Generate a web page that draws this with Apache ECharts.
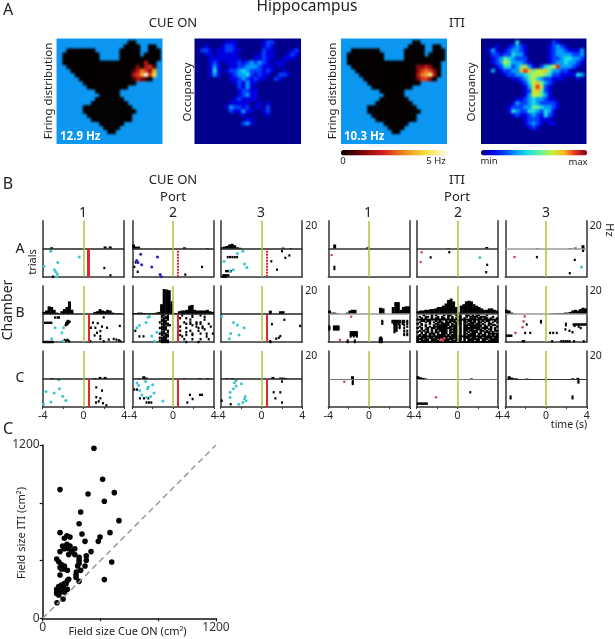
<!DOCTYPE html>
<html>
<head>
<meta charset="utf-8">
<style>
html,body{margin:0;padding:0;background:#fff}
#maps,#main{position:absolute;left:0;top:0;width:615px;height:639px}
#maps{filter:blur(1px);clip-path:path('M56.5 38.5h106v105.5h-106zM194.5 38.5h106.5v105.5h-106.5zM341 38.5h106v105.5h-106zM481 38.5h105.5v105.5h-105.5z')}
</style>
<script src="https://cdn.jsdelivr.net/npm/echarts@6/dist/echarts.min.js"></script>
</head>
<body>
<div id="maps"></div>
<div id="main"></div>
<script>
// =============== A: maps, one char per cell, '.' = outside the arena =================
var firingCueRows = [
  '...........................',
  '..................00.......',
  '.................0000..00..',
  '...0000000......00000..000.',
  '..000000000.....00000.0000.',
  '..000000000.....0000000000.',
  '..00000000000000000000300..',
  '...0000000000000000020341..',
  '....000000000000000135426..',
  '.....00000000000000346947..',
  '......000000000000013210...',
  '.......0000000000000.......',
  '........0000000000.........',
  '..........000000...........',
  '...........00000...........',
  '..........0000000..........',
  '.........000000000.........',
  '.......000000000000........',
  '.......0000000000000.......',
  '........00000000000........',
  '.........0000000000........',
  '...........000000..........',
  '............0000...........',
  '.............00............'
];
var firingItiRows = [
  '...........................',
  '..................00.......',
  '.................0000..00..',
  '...0000000......00000..000.',
  '..000000000.....00000.0000.',
  '..000000000.....0000000000.',
  '..00000000000000000000000..',
  '...0000000000000000223200..',
  '....000000000000000245420..',
  '.....00000000000000356830..',
  '......000000000000024420...',
  '.......0000000000000.......',
  '........0000000000.........',
  '..........000000...........',
  '...........00000...........',
  '..........0000000..........',
  '.........000000000.........',
  '.......000000000000........',
  '.......0000000000000.......',
  '........00000000000........',
  '.........0000000000........',
  '...........000000..........',
  '............0000...........',
  '.............00............'
];
var occupancyCueRows = [
  '000000000000000000000000000',
  '000000001110000001220000000',
  '000100012210000001210000000',
  '002210112211000002110000120',
  '000110111110000012110001210',
  '000011111111000112110011100',
  '000012101112123232101110000',
  '000013100112233321110100000',
  '000014101223432221210010000',
  '000013100123342121100221000',
  '000000000112321211002100000',
  '000000000012131100000000000',
  '000000000002131000000000000',
  '000000000001221100000000000',
  '000000000001231100000000000',
  '000000000012111100000000000',
  '000000000111110010100000000',
  '000000001322120110200000000',
  '000000000211311001200000000',
  '000000000000100000100000000',
  '000000000000011000000000000',
  '000000000000231000000000000',
  '000000000000000000000000000',
  '000000000000000000000000000',
  '000000000000000000000000000',
  '000000000000000000000000000',
  '000000000000000000000000000'
];
var occupancyItiRows = [
  '000000000000000000000000000',
  '000000000400000000210000000',
  '000010012321000001232100000',
  '001310123321000001233211130',
  '000221224331000001233332230',
  '000123543222000001223443320',
  '000123653332100001233433210',
  '000012442356310245683332100',
  '000301223378756675332210000',
  '000000122334566654221111430',
  '000000001123564322111000100',
  '000000000012467532100000000',
  '000000000001368621000000000',
  '000000000001267521000000000',
  '000000000001366531000000000',
  '000000000112343321100000000',
  '000000001322343222210000000',
  '000000012223355433210000000',
  '000000014322443243100000000',
  '000000001211232142100000000',
  '000000000001222111000000000',
  '000000000001232101100000000',
  '000000000000121000000000000',
  '000000000000000000000000000',
  '000000000000000000000000000',
  '000000000000000000000000000',
  '000000000000000000000000000'
];
var firingColors = ['#050000', '#7a0505', '#d81e1e', '#f08a1e', '#f8e040', '#fffce0'];
var occupancyColors = ['#00008c', '#0000e0', '#0040ff', '#00a0ff', '#20e0e0', '#60f0a0', '#c0f040', '#f8c020', '#e83020', '#800010'];

// =============== B: per panel firing rate [t, Hz] and spikes [t, trial] =================
var cueA1Hist = [[-3.125, 1], [2.125, 1.6], [2.625, 1.6]];
var cueA1Black = [[2.05, 13.8], [2.65, 19], [-3, 20]];
var cueA1Cyan = [[-3.21, 1.8], [-0.41, 6], [-2.52, 9.8], [-3.87, 12.5], [-2.85, 15], [-2.72, 16.5], [-2.55, 18], [-2.62, 20]];
var cueA2Hist = [[-3.875, 3], [-3.625, 1.5], [-3.375, 1.5], [1.125, 1], [3.375, 0.5]];
var cueA2Black = [[-3.8, 13], [-3.67, 9.8], [-3.47, 16.5], [2.84, 13], [1.2, 18.5]];
var cueA2Blue = [[-3.18, 4], [-1.53, 6], [-3.57, 8.5], [-3.44, 9.8], [-3.08, 11.5], [-2.09, 13], [-1.27, 18.5], [-1.14, 20]];
var cueA3Hist = [[-3.875, 1], [-3.625, 1.5], [-3.375, 2], [-3.125, 3], [-2.875, 3.5], [-2.625, 2.5], [-2.375, 1], [-2.125, 0.7], [2.125, 0.8], [2.875, 0.4]];
var cueA3Black = [[-3.31, 6], [-3.08, 6], [-2.85, 6], [-2.62, 6], [-2.39, 6], [-3.47, 16], [-3.31, 16], [-3.14, 16], [-2.98, 16], [-3.74, 19], [-3.57, 19], [-3.41, 19], [-3.24, 19], [-3.8, 20], [-3.64, 20], [-3.47, 20], [2.02, 1.8], [2.74, 4.8], [2.35, 6.5], [0.97, 9], [1.53, 15]];
var cueA3Cyan = [[-1.83, 1.8], [-3.67, 9], [-1.66, 11], [-1.43, 13.5], [-2.75, 15], [-3.08, 16], [-2.36, 3.5]];

var cueB1Hist = [[-3.875, 1.5], [-3.625, 2.5], [-3.375, 5.5], [-3.125, 5], [-2.875, 3], [-2.625, 1], [-2.375, 0.5], [-2.125, 2], [-1.875, 3.5], [-1.625, 5], [-1.375, 9], [-1.125, 3], [1.125, 1.5], [1.375, 2], [1.625, 3.5], [1.875, 2.5], [2.125, 2], [2.375, 3], [2.625, 2.5], [2.875, 1], [3.125, 0.5], [3.375, 0.5], [3.625, 0.5]];
var cueB1Black = [[-3.77, 6.3], [-3.6, 6.3], [-3.45, 6.3], [-3.3, 6.3], [-3.15, 6.3], [-2.8, 2.5], [-2.55, 2.5], [-2.4, 2.5], [-1.75, 8], [-1.65, 7.5], [-1.55, 7], [-1.45, 6], [-1.35, 5.5], [-1.7, 6.5], [-1.6, 5.5], [-1.5, 5], [-3.9, 20], [-3.75, 20], [-3.6, 20], [-3.45, 20], [-3.3, 20], [-3.15, 20], [-3, 20], [-2, 19.5], [-1.85, 18.5], [-1.7, 19], [-1.55, 18.5], [-1.4, 19.5], [0.93, 6.2], [1.4, 6.6], [1.99, 2.4], [0.74, 9.8], [1.17, 9.8], [1.66, 12.2], [1.33, 13.4], [1.82, 9], [2.32, 9.8], [3.57, 8.5], [1.66, 15.8], [1.1, 15.3], [0.67, 19.5], [1.99, 19.5], [2.48, 18.3], [2.97, 17.8], [3.24, 18.3], [3.47, 18.8], [1.66, 17.8], [3.63, 19.5]];
var cueB1Cyan = [[-2.78, 9.8], [-1.96, 9.8], [-3.11, 17.6], [-2.12, 13.4], [-1.96, 19.5]];
var cueB2Hist = [[-3.875, 0.7], [-3.625, 0.7], [-3.375, 1], [-3.125, 1], [-2.875, 0.7], [-2.625, 0.5], [-2.375, 0.5], [-2.125, 0.5], [-1.875, 0.7], [-1.625, 1], [-1.375, 1.5], [-1.125, 7], [-0.875, 17.8], [-0.625, 17.5], [-0.375, 17], [-0.125, 9], [0.125, 0.5], [0.375, 0.5], [0.625, 2], [0.875, 2.5], [1.125, 2.5], [1.375, 3], [1.625, 6], [1.875, 6.5], [2.125, 3], [2.375, 2.5], [2.625, 2.5], [2.875, 2.5], [3.125, 2.5], [3.375, 3], [3.625, 2], [3.875, 1.5]];
var cueB2Rows = [
  '..............##.#......#....#...#......',
  '..............#.##...........#.....#....',
  '...............###.....#..#.............',
  '..............##.#..........#......#....',
  '..............###.......................',
  '.............#.##........#..#..#.#......',
  '..............####........#.#..#.#...#..',
  '...............#.##..........#..........',
  '..............###......#.......#..#...#.',
  '.............####.........#.....#.#.....',
  '..............###..................#....',
  '.#.............#.#.....#....#...#.......',
  '..............##.#........#.............',
  '.............####............#...#..#..#',
  '..............#.##.....#..#..#..........',
  '...#.#.........###......#...........#...',
  '.............####.......................',
  '..............###.....#..#...#...#...#..',
  '.............#####......................',
  '..............####........#.....#.......'
];
var cueB2Cyan = [[-2.45, 2.4], [-2.3, 1.8], [-2.65, 6], [-3.3, 8], [-3.55, 9.8], [-1.8, 19.5], [-2.1, 15.8], [-1.6, 13]];
var cueB3Hist = [[0.875, 2.4], [1.875, 2], [2.125, 2]];
var cueB3Black = [[1.03, 7.3], [2.25, 4.1], [0.9, 20], [1.7, 17], [1.85, 15.8], [1.45, 17.6], [3.8, 8.5], [0.85, 19.5]];
var cueB3Cyan = [[-3.9, 1.7], [-2.75, 6.1], [-2.36, 7.8], [-1.7, 9.8], [-3.02, 13.9], [-2.2, 15], [-3.15, 17.6]];

var cueC1Hist = [[-3.125, 0.7], [1.125, 0.7], [1.625, 1.5], [2.125, 1.5]];
var cueC1Black = [[1.26, 6], [1.82, 8.3], [1.26, 13], [1.66, 13.8], [1.23, 16.8], [1.5, 16], [1.92, 17.3], [2.25, 18.8]];
var cueC1Cyan = [[-2.42, 0.5], [-2.88, 10], [-3.67, 9], [-2.35, 7], [-2.03, 12.3], [-1.73, 15.4], [-3.2, 16.5], [-3.93, 17.8]];
var cueC2Hist = [[-2.875, 2], [-2.625, 1], [-3.375, 0.5], [1.125, 0.4], [2.625, 0.7], [3.375, 0.7]];
var cueC2Black = [[-3.8, 7.5], [-3.54, 7.5], [-2.85, 13.8], [-3.25, 13.8], [-2.43, 13.8], [-2.6, 16.8], [-2.36, 16.8], [-2.13, 16.8], [1.66, 11.3], [2.64, 11.3], [2.84, 11.3], [1.92, 14.3], [1.4, 16.8]];
var cueC2Cyan = [[-3.54, 2.9], [-2.69, 1.7], [-3.38, 4.6], [-2.43, 5.8], [-2, 4.1], [-2.5, 7], [-3.28, 8.3], [-1.87, 10], [-3.05, 11.5], [-2.2, 12.5], [-2.59, 13.3], [-1, 15.8]];
var cueC3Hist = [[-3.375, 0.7], [-2.875, 0.7], [1.125, 1.5], [1.875, 1], [2.125, 1], [2.375, 0.7]];
var cueC3Black = [[2.02, 1.8], [1.2, 9.5], [1.85, 9.5], [1.37, 13.8], [2.02, 16.8], [-3.9, 15.5], [-3.02, 18]];
var cueC3Cyan = [[-2.49, 1], [-2.66, 2.7], [-1.96, 3.4], [-2.49, 5], [-2.75, 7], [-3.08, 9.5], [-1.6, 12.5], [-1.66, 14.3], [-1.5, 15.5], [-3.08, 13.3], [-1.83, 16.8], [-2.23, 18]];

var itiA1Hist = [[-3.375, 3], [-0.125, 1]];
var itiA1Black = [[-3.4, 13], [-3.4, 14.5]];
var itiA1Red = [[-3.67, 4.5]];
var itiA2Hist = [[-0.875, 0.5], [2.875, 1.2]];
var itiA2Black = [[-2.63, 6.2], [-0.8, 2.5], [2.92, 11.5], [2.82, 16.8]];
var itiA2Red = [[-3.51, 2.5], [-3.61, 9.5]];
var itiA2Cyan = [[2.2, 6.2]];
var itiA3Hist = [[-0.875, 0.5], [2.375, 0.5], [2.875, 0.8], [3.625, 2.5]];
var itiA3Black = [[-0.9, 6], [2.82, 8], [2.33, 17.5], [3.64, 0.5], [3.64, 1.5]];
var itiA3Red = [[-3.09, 6]];
var itiA3Cyan = [[3.48, 13]];

var itiB1Hist = [[-3.875, 2.5], [-3.625, 1], [-3.375, 1], [-3.125, 0.5], [-2.125, 1], [-1.875, 2.5], [-1.625, 3], [-1.375, 3], [1.125, 4.5], [1.375, 4], [2.375, 5], [2.625, 8.5], [2.875, 8.5], [3.125, 3], [3.375, 5], [3.625, 5.5], [3.875, 5.5]];
var itiB1Black = [[-3.9, 9], [-3.9, 10], [-3.9, 11], [-3.45, 9], [-3.3, 9], [-3.15, 9], [-3, 9], [-3.45, 10], [-3.3, 10], [-3.15, 10], [-3, 10], [-3.45, 11], [-3.3, 11], [-3.15, 11], [-3, 11],
  [-1.8, 13], [-1.65, 13], [-1.5, 13], [-1.35, 13], [-1.2, 13], [-1.8, 14], [-1.65, 14], [-1.5, 14], [-1.35, 14], [-1.2, 14], [-1.8, 15], [-1.65, 15], [-1.5, 15], [-1.35, 15], [-1.2, 15], [-1.8, 16], [-1.5, 16], [-1.2, 16], [-2.1, 19], [-2.1, 20], [-1.4, 19], [-1.4, 20],
  [1.3, 5], [1.3, 6], [1.3, 7], [1.1, 17], [1.2, 17], [1.05, 18], [1.25, 18], [1.05, 19], [1.25, 19], [1.05, 20], [1.25, 20],
  [2.3, 5], [2.45, 5], [2.6, 5], [2.75, 5], [2.9, 5], [3.05, 5], [3.3, 5], [3.45, 5], [3.75, 5], [2.3, 6], [2.45, 6], [2.6, 6], [2.75, 6], [2.9, 6], [3.05, 6], [3.3, 6], [3.45, 6], [3.75, 6], [2.45, 7], [2.6, 7], [2.9, 7], [3.3, 7], [3.75, 7],
  [2.5, 8], [2.7, 8], [3.0, 8], [3.45, 8], [3.75, 9], [2.5, 9], [2.7, 9], [3.0, 9], [2.5, 10], [2.7, 10], [3.0, 10], [3.45, 10], [2.5, 11], [2.7, 11], [2.5, 12], [2.7, 12], [3.45, 12], [3.75, 12], [2.5, 13], [3.45, 14], [3.75, 14], [3.45, 15], [3.75, 15]];
var itiB1Red = [[-1.75, 2], [-2.86, 18.5]];
var itiB2Hist = [[-3.875, 2], [-3.625, 2.5], [-3.375, 2.5], [-3.125, 3], [-2.875, 3], [-2.625, 3.5], [-2.375, 3.5], [-2.125, 4], [-1.875, 5], [-1.625, 5], [-1.375, 6], [-1.125, 7.5], [-0.875, 10], [-0.625, 11], [-0.375, 9], [-0.125, 5], [0.125, 1], [0.375, 6], [0.625, 7], [0.875, 9], [1.125, 9.5], [1.375, 9], [1.625, 7], [1.875, 6], [2.125, 5], [2.375, 4], [2.625, 3], [2.875, 3], [3.125, 4], [3.375, 4], [3.625, 3], [3.875, 2.5]];
var itiB2Rows = [
  '...#...#.#...#.##..#.#..##.#.##...#.....',
  '.#..##.#..#.#..#.#..##..#.####.###...#..',
  '..#.#..#.##.##.#.#.#.#.#..###.##.##.#..#',
  '########################################',
  '..##.##..#.#..#.###.##.#.##.#.#.#.##..#.',
  '.#..#.#.#.###.###.##.#.##.###.##.#.#.#.#',
  '#.#...#..##.####.#.###.#.###.##.#..##...',
  '..#.#...#.######.###.#.#########.#.#.##.',
  '.#..#.#.#######.####.#.##.######.##.#..#',
  '#.#..#.##.#######.##.#.########.###.#.#.',
  '..#.##.#.######.####.#.#####.###.#.##.#.',
  '.#.#.#.#.#.####.#.##.#.##.####.##.#.#.##',
  '#.#.##.#.##.###.####.#.#.#.###.#.###.#..',
  '..#.#.###.#.###.#.##.#.##.###.##.#.#####',
  '.#.##.#.#.####.#.###.#.#.####.#.##.#.#.#',
  '########################################',
  '#.###.##.####.#.####.#.###.##.##.####.##',
  '###.##.###.#######.###.#.######.###.####',
  '#.####.####.####.#####.#.###.##.##.#####',
  '########################################'
];
var itiB2Red = [[-1.6, 18], [-1.45, 19], [-1.3, 17.5]];
var itiB3Hist = [[-3.875, 3], [-3.625, 2.5], [-3.375, 1], [-3.125, 0.3], [0.625, 0.5], [0.875, 0.3], [1.125, 0.7], [1.375, 0.7], [1.625, 0.7], [1.875, 1], [2.125, 1], [2.375, 1.5], [2.625, 2.5], [2.875, 3], [3.125, 2.5], [3.375, 3.5], [3.625, 4.5], [3.875, 4]];
var itiB3Black = [[-0.5, 5], [-0.5, 6], [-1.9, 7.5], [1.95, 7], [1.95, 8], [2.7, 7.5], [2.85, 7.5], [3, 7.5], [3.15, 7.5], [3.3, 7.5], [3.45, 7.5], [3.6, 7.5], [3.75, 7.5], [3.9, 7.5], [2.3, 12], [1.9, 11], [2.6, 13], [2.8, 8.5], [3.2, 9], [3.4, 10], [-2.05, 13.5], [-1.55, 13.5], [0.4, 13.5], [0.7, 13.5], [1.05, 13.5], [-3.85, 15.5], [-3.7, 15.5], [-3.55, 15.5], [-3.4, 15.5], [-2.3, 19.5], [-2.15, 19.5], [0.6, 19.5], [1.5, 19.5], [1.7, 19.5], [1.9, 19.5], [2.1, 19.5], [2.3, 19.5], [2.75, 19.5], [3.7, 19.5]];
var itiB3Red = [[-2.1, 1.7], [-2.2, 5.3], [-2.3, 9.5], [-3, 13.5]];

var itiC1Hist = [[-1.625, 2]];
var itiC1Black = [[-1.6, 1.5], [-1.6, 2.5], [-1.6, 3.5]];
var itiC1Red = [[-2.43, 2]];
var itiC2Hist = [[-3.875, 2], [-3.625, 1.2], [-3.375, 0.8], [-3.125, 0.4], [1.375, 0.4]];
var itiC2Black = [[-3.9, 17.6], [-3.75, 17.6], [-3.6, 17.6], [-3.45, 17.6], [-3.3, 17.6], [-3.15, 17.6], [-3, 17.6], [1.26, 9.5]];
var itiC2Red = [[-2.1, 13]];
var itiC3Hist = [[-3.625, 2], [-3.375, 1], [-3.125, 0.5], [-2.875, 0.4], [-1.875, 0.3], [2.625, 0.5], [3.125, 0.8]];
var itiC3Black = [[3.18, 1.5], [3.18, 2.5], [-3.48, 12.5], [-3.48, 13.8], [2.6, 12.5], [2.6, 13.8]];

// =============== C: field size scatter =================
var fieldSizes = [
  [355, 1177], [415, 962], [120, 891], [496, 870], [314, 861], [427, 810], [263, 736], [528, 676], [252, 655], [120, 593],
  [466, 593], [272, 584], [168, 572], [189, 563], [150, 554], [397, 563], [385, 533], [293, 533], [138, 501], [168, 512],
  [189, 501], [150, 482], [180, 482], [222, 482], [120, 462], [201, 462], [180, 441], [335, 462], [222, 441], [302, 432],
  [252, 422], [97, 411], [252, 402], [302, 402], [111, 392], [129, 372], [252, 381], [478, 390], [150, 362], [120, 351],
  [293, 362], [242, 362], [150, 342], [129, 342], [263, 332], [171, 332], [233, 321], [231, 300], [120, 300], [231, 282],
  [180, 270], [427, 268], [171, 261], [252, 256], [150, 240], [129, 231], [162, 240], [111, 219], [141, 219], [97, 201],
  [120, 201], [150, 201], [171, 201], [97, 180], [120, 180], [150, 180], [97, 171], [111, 162], [141, 134], [99, 108]
];
var unityLine = [[0, 0], [1200, 1200]];
var fieldTicks = ['0', '1200'];

var cueMark = 0;
var portMark = 0.5;

function rowsToCells(rows) {
  var cells = [];
  rows.forEach(function (row, j) {
    for (var i = 0; i < row.length; i++) {
      if (row[i] !== '.') {
        cells.push([i, j, +row[i]]);
      }
    }
  });
  return cells;
}

function rowsToSpikes(rows) {
  var spikes = [];
  rows.forEach(function (row, j) {
    for (var i = 0; i < row.length; i++) {
      if (row[i] === '#') {
        spikes.push([-4 + (i + 0.5) * 0.2, j + 1]);
      }
    }
  });
  return spikes;
}

var mapCells = [];
for (var n = 0; n < 27; n++) {
  mapCells.push(n);
}

// heat maps live on their own softened layer
var mapGrids = [], mapX = [], mapY = [], mapSeries = [];
var maps = [
  {left: 56.5, width: 106, rows: firingCueRows, bg: '#0b97f2'},
  {left: 194.5, width: 106.5, rows: occupancyCueRows, bg: '#00008c'},
  {left: 341, width: 106, rows: firingItiRows, bg: '#0b97f2'},
  {left: 481, width: 105.5, rows: occupancyItiRows, bg: '#00008c'}
];
maps.forEach(function (m, k) {
  mapGrids.push({left: m.left - 2, top: 36.5, width: m.width + 4, height: 109.5, show: true, backgroundColor: m.bg, borderWidth: 0});
  mapX.push({type: 'category', gridIndex: k, data: mapCells, show: false});
  mapY.push({type: 'category', gridIndex: k, data: mapCells, inverse: true, show: false});
  mapSeries.push({type: 'heatmap', xAxisIndex: k, yAxisIndex: k, data: rowsToCells(m.rows), progressive: 0, silent: true});
});

var grids = [], xAxes = [], yAxes = [], series = [];

// raster panels
var colLeft = [42.7, 132.3, 220.7, 328.3, 416.7, 505.3];
var rowTop = [220.7, 286, 351];
var panels = [
  {c: 0, r: 0, hist: cueA1Hist, black: cueA1Black, cyan: cueA1Cyan, portWidth: 3},
  {c: 1, r: 0, hist: cueA2Hist, black: cueA2Black, blue: cueA2Blue, portWidth: 2, portDots: true},
  {c: 2, r: 0, hist: cueA3Hist, black: cueA3Black, cyan: cueA3Cyan, portWidth: 2, portDots: true},
  {c: 0, r: 1, hist: cueB1Hist, black: cueB1Black, cyan: cueB1Cyan, portWidth: 2},
  {c: 1, r: 1, hist: cueB2Hist, black: rowsToSpikes(cueB2Rows), cyan: cueB2Cyan, portWidth: 2},
  {c: 2, r: 1, hist: cueB3Hist, black: cueB3Black, cyan: cueB3Cyan, portWidth: 2},
  {c: 0, r: 2, hist: cueC1Hist, black: cueC1Black, cyan: cueC1Cyan, portWidth: 2},
  {c: 1, r: 2, hist: cueC2Hist, black: cueC2Black, cyan: cueC2Cyan, portWidth: 2},
  {c: 2, r: 2, hist: cueC3Hist, black: cueC3Black, cyan: cueC3Cyan, portWidth: 2},
  {c: 3, r: 0, hist: itiA1Hist, black: itiA1Black, red: itiA1Red, mid: '#333'},
  {c: 4, r: 0, hist: itiA2Hist, black: itiA2Black, red: itiA2Red, cyan: itiA2Cyan, mid: '#333'},
  {c: 5, r: 0, hist: itiA3Hist, black: itiA3Black, red: itiA3Red, cyan: itiA3Cyan, mid: '#999'},
  {c: 3, r: 1, hist: itiB1Hist, black: itiB1Black, red: itiB1Red, mid: '#999'},
  {c: 4, r: 1, hist: itiB2Hist, black: rowsToSpikes(itiB2Rows), red: itiB2Red, mid: '#555', dense: true},
  {c: 5, r: 1, hist: itiB3Hist, black: itiB3Black, red: itiB3Red, mid: '#999'},
  {c: 3, r: 2, hist: itiC1Hist, black: itiC1Black, red: itiC1Red, mid: '#777', thin: true},
  {c: 4, r: 2, hist: itiC2Hist, black: itiC2Black, red: itiC2Red, mid: '#777', thin: true},
  {c: 5, r: 2, hist: itiC3Hist, black: itiC3Black, mid: '#333', thin: true}
];

var axisColor = '#333';
panels.forEach(function (p) {
  var g = grids.length;
  var showHz = p.c === 2 || p.c === 5;
  grids.push({left: colLeft[p.c], top: rowTop[p.r], width: 81.5, height: 56});
  xAxes.push({
    type: 'value', gridIndex: g, min: -4, max: 4, interval: 2,
    axisLine: {show: true, onZero: false, lineStyle: {color: axisColor, width: 1.5}},
    axisTick: {show: p.r === 2, length: 2, lineStyle: {color: axisColor}},
    axisLabel: {
      show: p.r === 2, margin: 4, fontSize: 10.5, color: '#222', fontFamily: 'Noto Sans', showMinLabel: true, showMaxLabel: true,
      formatter: function (v) {
        return Math.abs(v) === 2 ? '' : String(v);
      }
    },
    splitLine: {show: false}
  });
  var leftIndex = yAxes.length;
  yAxes.push({
    type: 'value', gridIndex: g, position: 'left', min: -20, max: 20, interval: 20,
    axisLine: {show: true, onZero: false, lineStyle: {color: axisColor, width: 1.5}},
    axisTick: {show: false}, axisLabel: {show: false}, splitLine: {show: false}
  });
  yAxes.push({
    type: 'value', gridIndex: g, position: 'right', min: -20, max: 20, interval: 20,
    axisLine: {show: true, onZero: false, lineStyle: {color: axisColor, width: 1.5}},
    axisTick: {show: false},
    axisLabel: {
      show: showHz, margin: 3, fontSize: 10.5, color: '#222', fontFamily: 'Noto Sans', verticalAlign: 'top',
      formatter: function (v) {
        return v === 20 ? '20' : '';
      }
    },
    splitLine: {show: false}
  });

  var lines = [
    [{coord: [-4, 0], lineStyle: {color: p.mid || '#222', width: p.thin ? 1 : 1.5, type: 'solid'}}, {coord: [4, 0]}],
    [{coord: [cueMark, -20], lineStyle: {color: '#a4c739', width: 1.5, type: 'solid'}}, {coord: [cueMark, 20]}]
  ];
  if (p.portWidth) {
    lines.push([{coord: [portMark, -20], lineStyle: {color: '#e3262e', width: p.portWidth, type: p.portDots ? [2, 1] : 'solid'}}, {coord: [portMark, 0]}]);
  }
  series.push({
    type: 'bar', xAxisIndex: g, yAxisIndex: leftIndex, data: p.hist, barWidth: 3, silent: true,
    itemStyle: {color: '#000'},
    markLine: {silent: true, symbol: 'none', label: {show: false}, animation: false, z: 5, data: lines}
  });
  var dots = [
    {data: p.black, color: '#000', size: p.dense ? [2.5, 2] : [2, 2.4], symbol: 'rect'},
    {data: p.cyan, color: '#3cc6cf', size: 3, symbol: 'circle'},
    {data: p.blue, color: '#2424b8', size: 3, symbol: 'circle'},
    {data: p.red, color: '#e0455a', size: 2.6, symbol: 'circle'}
  ];
  dots.forEach(function (d) {
    if (!d.data) {
      return;
    }
    series.push({
      type: 'scatter', xAxisIndex: g, yAxisIndex: leftIndex, symbol: d.symbol, symbolSize: d.size, silent: true,
      itemStyle: {color: d.color, opacity: 1},
      data: d.data.map(function (s) {
        return [s[0], -s[1]];
      })
    });
  });
});

// scatter
var sg = grids.length;
grids.push({left: 42.7, top: 445, width: 173.3, height: 173.3});
function fieldAxis(index, pos) {
  return {
    type: 'value', gridIndex: index, position: pos, min: 0, max: 1200, interval: 400,
    axisLine: {show: true, onZero: false, lineStyle: {color: '#111', width: 1.5}},
    axisTick: {show: true, length: 3, lineStyle: {color: '#111', width: 1.2}},
    axisLabel: {
      margin: 3, fontSize: 12, color: '#333', fontFamily: 'Noto Sans', showMinLabel: true, showMaxLabel: true,
      formatter: function (v) {
        return fieldTicks.indexOf(String(v)) >= 0 ? String(v) : '';
      }
    },
    splitLine: {show: false}
  };
}
xAxes.push(fieldAxis(sg, 'bottom'));
yAxes.push(fieldAxis(sg, 'left'));
series.push({
  type: 'line', xAxisIndex: sg, yAxisIndex: yAxes.length - 1, data: unityLine, symbol: 'none', silent: true,
  lineStyle: {color: '#999', width: 1.5, type: [6, 4]}
});
series.push({
  type: 'scatter', xAxisIndex: sg, yAxisIndex: yAxes.length - 1, data: fieldSizes, symbol: 'circle', symbolSize: 5.6, silent: true,
  itemStyle: {color: '#050505', opacity: 1}
});

function label(x, y, text, size, extra) {
  extra = extra || {};
  return {
    type: 'text', x: x, y: y, rotation: extra.rotation || 0, silent: true, z: 20,
    style: {
      text: text, fill: extra.fill || '#222', textAlign: extra.align || 'center', textVerticalAlign: 'middle',
      font: (extra.bold ? 'bold ' : '') + size + 'px "Noto Sans"'
    }
  };
}
var ccw = Math.PI / 2;
var texts = [
  label(307, 7, 'Hippocampus', 15.5),
  label(8, 10, 'A', 16), label(8, 184, 'B', 16), label(8, 429, 'C', 16),
  label(173, 23, 'CUE ON', 13), label(457, 23, 'ITI', 13),
  label(49, 91, 'Firing distribution', 11.5, {rotation: ccw}),
  label(188, 92, 'Occupancy', 11.5, {rotation: ccw}),
  label(333, 91, 'Firing distribution', 11.5, {rotation: ccw}),
  label(472, 92, 'Occupancy', 11.5, {rotation: ccw}),
  label(60, 137, '12.9 Hz', 11.5, {fill: '#fff', align: 'left', bold: true}),
  label(344, 137, '10.3 Hz', 11.5, {fill: '#fff', align: 'left', bold: true}),
  label(343, 161, '0', 9.5), label(436, 161, '5 Hz', 9.5),
  label(489, 161, 'min', 9.5), label(578, 162, 'max', 9.5),
  label(173, 180, 'CUE ON', 13), label(173, 197, 'Port', 13),
  label(457, 180, 'ITI', 13), label(457, 197, 'Port', 13),
  label(83, 213, '1', 14), label(173, 213, '2', 14), label(261, 213, '3', 14),
  label(368, 213, '1', 14), label(458, 213, '2', 14), label(546, 213, '3', 14),
  label(20, 249, 'A', 14), label(20, 313, 'B', 14), label(20, 378, 'C', 14),
  label(33, 262, 'trials', 11, {rotation: ccw}),
  label(8, 310, 'Chamber', 14, {rotation: ccw}),
  label(609, 230, 'Hz', 11, {rotation: -ccw}),
  label(569, 425, 'time (s)', 10.5),
  label(22, 533, 'Field size ITI (cm²)', 11, {rotation: ccw}),
  label(127.5, 632, 'Field size Cue ON (cm²)', 11)
];

var mapChart = echarts.init(document.getElementById('maps'));
mapChart.setOption({
  animation: false,
  grid: mapGrids,
  xAxis: mapX,
  yAxis: mapY,
  visualMap: [
    {type: 'continuous', seriesIndex: [0, 2], min: 0, max: 9, show: false, inRange: {color: firingColors}},
    {type: 'continuous', seriesIndex: [1, 3], min: 0, max: 9, show: false, inRange: {color: occupancyColors}}
  ],
  series: mapSeries
});

var myChart = echarts.init(document.getElementById('main'));
myChart.setOption({
  animation: false,
  grid: grids,
  xAxis: xAxes,
  yAxis: yAxes,
  visualMap: [
    {type: 'continuous', seriesIndex: [], min: 0, max: 9, orient: 'horizontal', left: 341, top: 150, padding: 0, itemWidth: 5.5, itemHeight: 106, calculable: false, text: null, showLabel: false, realtime: false, inRange: {color: firingColors}},
    {type: 'continuous', seriesIndex: [], min: 0, max: 9, orient: 'horizontal', left: 481, top: 150, padding: 0, itemWidth: 5.5, itemHeight: 106, calculable: false, text: null, showLabel: false, realtime: false, inRange: {color: occupancyColors}}
  ],
  graphic: texts,
  series: series
});
</script>
</body>
</html>
